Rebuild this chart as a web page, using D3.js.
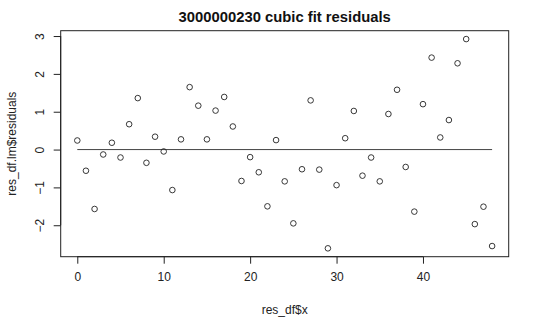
<!DOCTYPE html>
<html>
<head>
<meta charset="utf-8">
<script src="https://cdn.jsdelivr.net/npm/d3@7"></script>
<style>
  body { margin: 0; background: #fff; }
  svg { font-family: "Liberation Sans", Arial, sans-serif; }
</style>
</head>
<body>
<svg></svg>
<script>
var WIDTH = 540;
var HEIGHT = 333;

//data
var xValues = d3.range(0, 49);
var residuals = [
  0.24, -0.56, -1.57, -0.13, 0.18, -0.21, 0.67, 1.36, -0.35, 0.34,
  -0.05, -1.07, 0.27, 1.65, 1.16, 0.27, 1.03, 1.39, 0.61, -0.83,
  -0.20, -0.60, -1.50, 0.25, -0.84, -1.95, -0.52, 1.30, -0.53, -2.61,
  -0.94, 0.30, 1.02, -0.69, -0.21, -0.84, 0.94, 1.58, -0.46, -1.64,
  1.20, 2.43, 0.32, 0.78, 2.28, 2.92, -1.97, -1.51, -2.55
];
var xTicks = [0, 10, 20, 30, 40];
var yTicks = [-2, -1, 0, 1, 2, 3];
var title = "3000000230 cubic fit residuals";
var xLabel = "res_df$x";
var yLabel = "res_df.lm$residuals";

//plot region (R style box)
var box = { left: 60.7, top: 30.7, right: 508.7, bottom: 256.7 };

//R extends the data range by 4% on each side
function rDomain(values) {
  var ext = d3.extent(values);
  var pad = (ext[1] - ext[0]) * 0.04;
  return [ext[0] - pad, ext[1] + pad];
}

var x = d3.scaleLinear().domain(rDomain(xValues)).range([box.left, box.right]);
var y = d3.scaleLinear().domain(rDomain(residuals)).range([box.bottom, box.top]);

var svg = d3.select("svg").attr("width", WIDTH).attr("height", HEIGHT);
var ink = "#222";

//box
svg.append("rect")
  .attr("x", box.left)
  .attr("y", box.top)
  .attr("width", box.right - box.left)
  .attr("height", box.bottom - box.top)
  .attr("fill", "none")
  .attr("stroke", ink)
  .attr("stroke-width", 1);

//x axis
var xAxis = svg.append("g")
  .attr("transform", "translate(0," + box.bottom + ")")
  .call(d3.axisBottom(x).tickValues(xTicks).tickSize(7).tickPadding(9).tickSizeOuter(0));
xAxis.select(".domain").attr("d", "M" + x(xTicks[0]) + ",0H" + x(xTicks[xTicks.length - 1]));

//y axis
var yAxis = svg.append("g")
  .attr("transform", "translate(" + box.left + ",0)")
  .call(d3.axisLeft(y).tickValues(yTicks).tickSize(7).tickFormat(d3.format("d")));
yAxis.select(".domain").attr("d", "M0," + y(yTicks[0]) + "V" + y(yTicks[yTicks.length - 1]));
yAxis.selectAll(".tick text")
  .attr("x", null)
  .attr("text-anchor", "middle")
  .attr("transform", "translate(-21,0) rotate(-90)")
  .attr("dy", "0.35em");

svg.selectAll(".domain, .tick line").attr("stroke", ink);
svg.selectAll(".tick text").attr("fill", ink).style("font-size", "12px");

//zero line across the data range
svg.append("line")
  .attr("x1", x(xValues[0]))
  .attr("x2", x(xValues[xValues.length - 1]))
  .attr("y1", y(0))
  .attr("y2", y(0))
  .attr("stroke", "#444")
  .attr("stroke-width", 1);

//points
svg.append("g")
  .selectAll("circle")
  .data(residuals)
  .enter()
  .append("circle")
  .attr("cx", function (d, i) { return x(xValues[i]); })
  .attr("cy", function (d) { return y(d); })
  .attr("r", 2.8)
  .attr("fill", "none")
  .attr("stroke", ink)
  .attr("stroke-width", 0.9);

//labels
svg.append("text")
  .attr("x", (box.left + box.right) / 2)
  .attr("y", 22)
  .attr("text-anchor", "middle")
  .style("font-weight", "bold")
  .style("font-size", "14.8px")
  .attr("fill", "#111")
  .text(title);

svg.append("text")
  .attr("x", (box.left + box.right) / 2)
  .attr("y", 314)
  .attr("text-anchor", "middle")
  .style("font-size", "12px")
  .attr("fill", ink)
  .text(xLabel);

svg.append("text")
  .attr("transform", "translate(12," + (box.top + box.bottom) / 2 + ") rotate(-90)")
  .attr("text-anchor", "middle")
  .attr("dy", "0.35em")
  .style("font-size", "12px")
  .attr("fill", ink)
  .text(yLabel);
</script>
</body>
</html>
